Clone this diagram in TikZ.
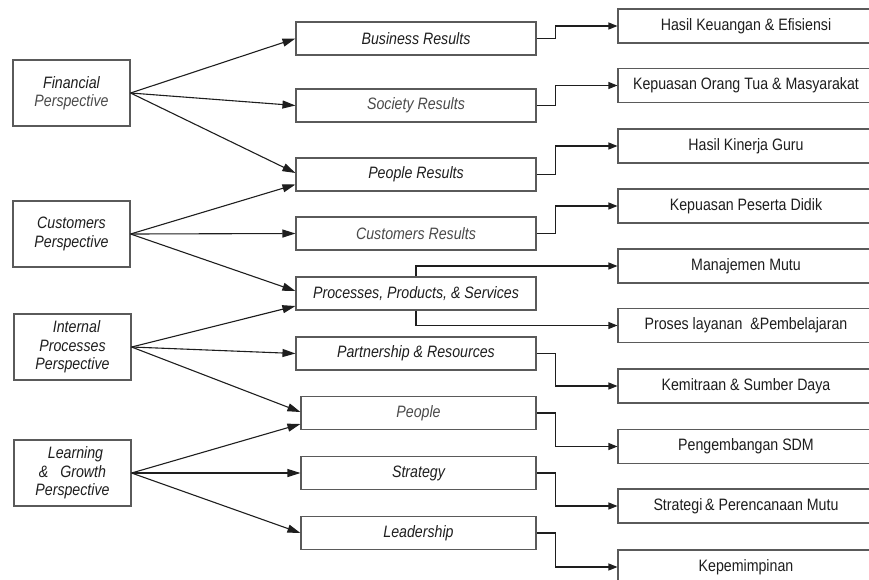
\documentclass[tikz,border=0pt]{standalone}
\usepackage{fontspec}
\setmainfont{Liberation Sans}[FakeStretch=0.86]
\usetikzlibrary{arrows.meta}
\definecolor{boxline}{HTML}{5A5A5A}
\definecolor{ink}{HTML}{1E1E1E}
\definecolor{soft}{HTML}{4A4A4A}
\tikzset{
  base/.style={draw=boxline, line width=1.1pt, inner sep=0pt, fill=white,
    font=\fontsize{16.5}{18}\selectfont, text=ink, align=center},
  leftbox/.style={base, minimum width=117pt, minimum height=66pt, font=\fontsize{16.5}{18.5}\selectfont\itshape},
  midbox/.style={base, minimum height=33pt, font=\fontsize{16.5}{18}\selectfont\itshape},
  rightbox/.style={base, minimum width=256pt, minimum height=34pt},
  bigarrow/.style={draw=ink, line width=1.1pt, -{Triangle[length=13pt,width=8pt]}},
  smallarrow/.style={draw=ink, line width=1.1pt, -{Triangle[length=9pt,width=7pt]}},
}
\begin{document}
\begin{tikzpicture}[x=1pt,y=-1pt]
\useasboundingbox (0,0) rectangle (869,579);
% left boxes
\node[leftbox] (fin) at (71.5,93) {Financial\\\textcolor{soft}{Perspective}};
\node[leftbox] (cus) at (71.5,234) {Customers\\Perspective};
\node[leftbox] (int) at (72.5,347) {\hspace*{8pt}Internal\\Processes\\Perspective};
\node[leftbox] (lea) at (72.5,473) {\hspace*{6pt}Learning\\\&~~~Growth\\Perspective};
% middle boxes
\node[midbox, minimum width=240pt] (br) at (416,38.5) {Business Results};
\node[midbox, minimum width=240pt, text=soft] (sr) at (416,105.5) {Society Results};
\node[midbox, minimum width=240pt] (pr) at (416,174.5) {People Results};
\node[midbox, minimum width=240pt, text=soft] (cr) at (416,233.5) {Customers Results};
\node[midbox, minimum width=240pt] (pps) at (416,293.5) {Processes, Products, \& Services};
\node[midbox, minimum width=240pt] (pa) at (416,353.5) {Partnership \& Resources};
\node[midbox, minimum width=235pt, text=soft] (pe) at (418.5,413) {People};
\node[midbox, minimum width=235pt] (st) at (418.5,473) {Strategy};
\node[midbox, minimum width=235pt] (le) at (418.5,533) {Leadership};
% right boxes
\node[rightbox] (r1) at (746,26) {Hasil Keuangan \& Efisiensi};
\node[rightbox] (r2) at (746,85.5) {Kepuasan Orang Tua \& Masyarakat};
\node[rightbox] (r3) at (746,146) {Hasil Kinerja Guru};
\node[rightbox] (r4) at (746,206) {Kepuasan Peserta Didik};
\node[rightbox] (r5) at (746,266) {Manajemen Mutu};
\node[rightbox] (r6) at (746,325.5) {Proses layanan~~\&Pembelajaran};
\node[rightbox] (r7) at (746,386) {Kemitraan \& Sumber Daya};
\node[rightbox] (r8) at (746,446.5) {Pengembangan SDM};
\node[rightbox] (r9) at (746,506) {Strategi\,\& Perencanaan Mutu};
\node[rightbox] (r10) at (746,567) {Kepemimpinan};
% left arrows
\draw[bigarrow] (fin.east) -- (br.west);
\draw[bigarrow] (fin.east) -- (sr.west);
\draw[bigarrow] (fin.east) -- ([yshift=1.5pt]pr.west);
\draw[bigarrow] (cus.east) -- ([yshift=-10pt]pr.west);
\draw[bigarrow] (cus.east) -- (cr.west);
\draw[bigarrow] (cus.east) -- ([yshift=2.5pt]pps.west);
\draw[bigarrow] (int.east) -- ([yshift=-12.5pt]pps.west);
\draw[bigarrow] (int.east) -- (pa.west);
\draw[bigarrow] (int.east) -- ([yshift=1pt]pe.west);
\draw[bigarrow] (lea.east) -- ([yshift=-11pt]pe.west);
\draw[bigarrow] (lea.east) -- (st.west);
\draw[bigarrow] (lea.east) -- (le.west);
% right connectors
\draw[smallarrow] (br.east) -- ++(19,0) |- (r1.west);
\draw[smallarrow] (sr.east) -- ++(19,0) |- (r2.west);
\draw[smallarrow] (pr.east) -- ++(19,0) |- (r3.west);
\draw[smallarrow] (cr.east) -- ++(19,0) |- (r4.west);
\draw[smallarrow] (pps.north) |- (r5.west);
\draw[smallarrow] (pps.south) |- (r6.west);
\draw[smallarrow] (pa.east) -- ++(19,0) |- (r7.west);
\draw[smallarrow] (pe.east) -- ++(19,0) |- (r8.west);
\draw[smallarrow] (st.east) -- ++(19,0) |- (r9.west);
\draw[smallarrow] (le.east) -- ++(19,0) |- (r10.west);
\end{tikzpicture}
\end{document}
